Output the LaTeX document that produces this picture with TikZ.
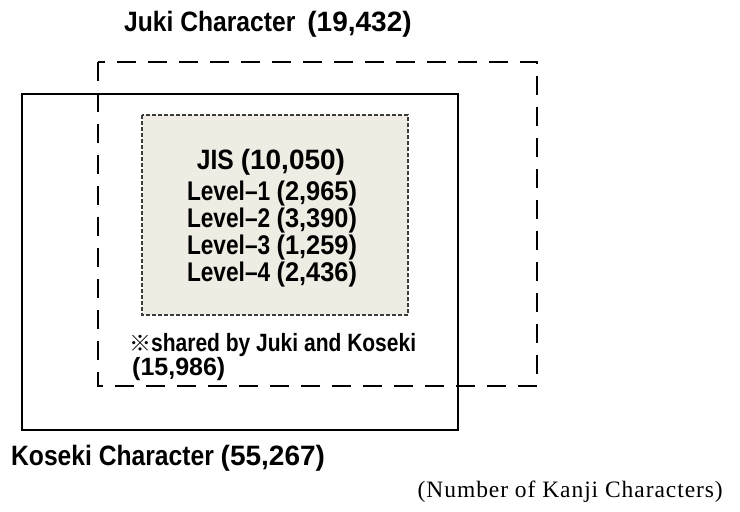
\documentclass[tikz,border=0pt]{standalone}
\usepackage{fontspec}
\newfontfamily\goth[FakeStretch=0.88]{Liberation Sans}
\newfontfamily\gothn{Liberation Sans}
\newfontfamily\gothl[FakeStretch=0.84]{Liberation Sans}
\newfontfamily\gothd[FakeStretch=0.94]{Liberation Sans}
\newfontfamily\gothsh[FakeStretch=0.84]{Liberation Sans}
\newfontfamily\cjk{Noto Sans CJK JP}
\newfontfamily\unitfont[LetterSpace=4]{Liberation Serif}
\definecolor{jisfill}{RGB}{238,236,227}
\definecolor{jisline}{RGB}{60,60,60}
\newcommand{\nm}[1]{{\gothn\bfseries #1}}
\newcommand{\lvnum}[1]{{\gothd\bfseries #1}}
\tikzset{
  lbl/.style={inner sep=0pt, font=\goth\bfseries\fontsize{28}{30}\selectfont, anchor=base west},
  lvl/.style={inner sep=0pt, font=\gothl\bfseries\fontsize{27}{29}\selectfont, anchor=base},
  kosekibox/.style={draw=black, line width=2.9pt},
  jukibox/.style={draw=black, line width=2.9pt, dash pattern=on 19pt off 12pt},
  jisbox/.style={draw=jisline, fill=jisfill, line width=1.3pt, dash pattern=on 4pt off 2pt},
}
\begin{document}
\begin{tikzpicture}[x=1pt,y=-1pt]
\useasboundingbox (0,0) rectangle (740,512);
\fill[white] (0,0) rectangle (740,512);
% boxes
\draw[kosekibox] (22,94) rectangle (458,430);
\draw[jukibox] (98,62) rectangle (537,386);
\draw[jisbox] (142,115) rectangle (408,315);
\node[lbl] (juki) at (124,31) {Juki Character\hspace{12pt}\nm{(19,432)}};
\node[lvl, font=\goth\bfseries\fontsize{28}{30}\selectfont] (jis) at (271,169) {JIS \nm{(10,050)}};
\node[lvl] (l1) at (272,200) {Level–1 \lvnum{(2,965)}};
\node[lvl] (l2) at (272,227) {Level–2 \lvnum{(3,390)}};
\node[lvl] (l3) at (272,254) {Level–3 \lvnum{(1,259)}};
\node[lvl] (l4) at (272,281) {Level–4 \lvnum{(2,436)}};
\node[lbl, font=\gothsh\bfseries\fontsize{25}{28}\selectfont] (shared) at (129,351) {{\cjk\bfseries\fontsize{22}{24}\selectfont ※}shared by Juki and Koseki};
\node[lbl, font=\gothn\bfseries\fontsize{25}{28}\selectfont] (sharedn) at (132,375) {(15,986)};
\node[lbl] (koseki) at (11,465) {Koseki Character \nm{(55,267)}};
\node[inner sep=0pt, anchor=base east, font=\unitfont\fontsize{23.5}{26}\selectfont] (unit) at (723,497) {(Number of Kanji Characters)};
\end{tikzpicture}
\end{document}
